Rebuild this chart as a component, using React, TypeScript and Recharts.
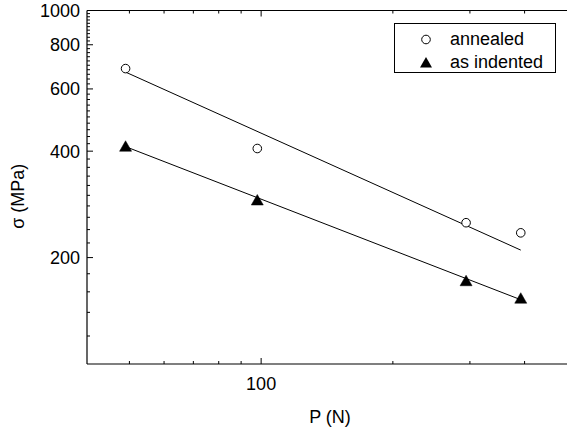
import React from "react";
import { ScatterChart, Scatter, XAxis, YAxis, Label } from "recharts";

// ---- data ----
const loadP = [49, 98, 294, 392]; // P (N)
const annealedSigma = [685, 407, 251, 235]; // σ (MPa)
const indentedSigma = [413, 291, 172, 153.5]; // σ (MPa)

const fitP = [49, 392];
const annealedFitSigma = [669.5, 210];
const indentedFitSigma = [412, 152];

// ---- ticks ----
const xTicks = [50, 60, 70, 80, 90, 100, 200, 300, 400];
const xLabels = [100];
const yTicks = [
  120, 140, 160, 180, 200, 220, 240, 260, 280, 300, 320, 340, 360, 380, 400,
  420, 440, 460, 480, 500, 520, 540, 560, 580, 600, 620, 640, 660, 680, 700,
  720, 740, 760, 780, 800, 820, 840, 860, 880, 900, 920, 940, 960, 980, 1000,
];
const yLabels = [200, 400, 600, 800, 1000];

const seriesNames = ["annealed", "as indented"];

const FONT = "'Liberation Sans', Arial, Helvetica, sans-serif";
const FS = 18;

const toPoints = (xs: number[], ys: number[]) => xs.map((p, i) => ({ p, s: ys[i] }));

const annealedData = toPoints(loadP, annealedSigma);
const indentedData = toPoints(loadP, indentedSigma);
const annealedFit = toPoints(fitP, annealedFitSigma);
const indentedFit = toPoints(fitP, indentedFitSigma);

const XTick = (props: any) => {
  const { x, y, payload } = props;
  const major = xLabels.includes(payload.value);
  return (
    <g>
      <line x1={x} x2={x} y1={y} y2={y - (major ? 6 : 3)} stroke="#000" strokeWidth={1} />
      {major && (
        <text x={x} y={y + 26} textAnchor="middle" fontFamily={FONT} fontSize={FS} fill="#000">
          {payload.value}
        </text>
      )}
    </g>
  );
};

const TopTick = (props: any) => {
  const { x, y, payload } = props;
  const major = xLabels.includes(payload.value);
  return <line x1={x} x2={x} y1={y} y2={y + (major ? 6 : 3)} stroke="#000" strokeWidth={1} />;
};

const YTick = (props: any) => {
  const { x, y, payload } = props;
  const major = yLabels.includes(payload.value);
  return (
    <g>
      <line x1={x} x2={x + (major ? 6 : 3)} y1={y} y2={y} stroke="#000" strokeWidth={1} />
      {major && (
        <text x={x - 7} y={y} dy="0.36em" textAnchor="end" fontFamily={FONT} fontSize={FS} fill="#000">
          {payload.value}
        </text>
      )}
    </g>
  );
};

const Circle = (props: any) => {
  const { cx, cy } = props;
  if (cx == null || cy == null) return <g />;
  return <circle cx={cx} cy={cy} r={4.3} fill="#fff" stroke="#000" strokeWidth={1} />;
};

const Triangle = (props: any) => {
  const { cx, cy } = props;
  if (cx == null || cy == null) return <g />;
  const pts = `${cx},${cy - 5.5} ${cx - 6},${cy + 5} ${cx + 6},${cy + 5}`;
  return <polygon points={pts} fill="#000" stroke="#000" strokeWidth={0.5} />;
};

const NoShape = () => <g />;

const YLabel = (props: any) => {
  const vb = props.viewBox || { x: 0, y: 0, width: 87, height: 354 };
  const cx = vb.x + 24;
  const cy = vb.y + vb.height / 2 + 9;
  return (
    <text
      x={cx}
      y={cy}
      transform={`rotate(-90, ${cx}, ${cy})`}
      textAnchor="middle"
      fontFamily={FONT}
      fontSize={FS}
      fill="#000"
    >
      σ (MPa)
    </text>
  );
};

const LegendMarker = ({ index }: { index: number }) =>
  index === 0 ? (
    <circle cx={31} cy={11.5} r={4.3} fill="#fff" stroke="#000" strokeWidth={1} />
  ) : (
    <polygon points="31,6 25,16.5 37,16.5" fill="#000" />
  );

export default function App() {
  return (
    <div style={{ position: "absolute", left: 0, top: 0, width: 568, height: 432, background: "#fff" }}>
      <ScatterChart width={568} height={432} margin={{ top: 0.5, right: 1, bottom: 0, left: 0 }}>
        <XAxis
          xAxisId="b"
          dataKey="p"
          type="number"
          scale="log"
          domain={[40, 500]}
          allowDataOverflow
          ticks={xTicks}
          interval={0}
          tickSize={0}
          tickMargin={0}
          tickLine={false}
          tick={XTick}
          height={68}
          axisLine={{ stroke: "#000", strokeWidth: 1.2 }}
        >
          <Label
            value="P (N)"
            position="insideBottom"
            offset={9}
            dx={3}
            style={{ fontFamily: FONT, fontSize: FS, fill: "#000" }}
          />
        </XAxis>
        <XAxis
          xAxisId="t"
          orientation="top"
          dataKey="p"
          type="number"
          scale="log"
          domain={[40, 500]}
          allowDataOverflow
          ticks={xTicks}
          interval={0}
          tickSize={0}
          tickMargin={0}
          tickLine={false}
          tick={TopTick}
          height={10}
          axisLine={{ stroke: "#000", strokeWidth: 1.2 }}
        />
        <YAxis
          yAxisId="l"
          dataKey="s"
          type="number"
          scale="log"
          domain={[100, 1000]}
          allowDataOverflow
          ticks={yTicks}
          interval={0}
          tickSize={0}
          tickMargin={0}
          tickLine={false}
          tick={YTick}
          width={87}
          axisLine={{ stroke: "#000", strokeWidth: 1.2 }}
          label={<YLabel />}
        />
        <Scatter xAxisId="t" yAxisId="l" data={annealedFit} shape={NoShape} isAnimationActive={false} />
        <Scatter
          xAxisId="b"
          yAxisId="l"
          data={annealedFit}
          line={{ stroke: "#000", strokeWidth: 1 }}
          shape={NoShape}
          isAnimationActive={false}
        />
        <Scatter
          xAxisId="b"
          yAxisId="l"
          data={indentedFit}
          line={{ stroke: "#000", strokeWidth: 1 }}
          shape={NoShape}
          isAnimationActive={false}
        />
        <Scatter xAxisId="b" yAxisId="l" name={seriesNames[0]} data={annealedData} shape={Circle} isAnimationActive={false} />
        <Scatter xAxisId="b" yAxisId="l" name={seriesNames[1]} data={indentedData} shape={Triangle} isAnimationActive={false} />
      </ScatterChart>
      <div
        style={{
          position: "absolute",
          left: 394,
          top: 23,
          width: 160,
          height: 48,
          border: "1px solid #000",
          background: "#fff",
          fontFamily: FONT,
          fontSize: FS,
          color: "#000",
        }}
      >
        {seriesNames.map((name, i) => (
          <div
            key={name}
            style={{ position: "absolute", left: 0, top: 3.5 + i * 23, height: 23, display: "flex", alignItems: "center", whiteSpace: "nowrap" }}
          >
            <svg width={55} height={23} style={{ display: "block" }}>
              <LegendMarker index={i} />
            </svg>
            <span style={{ lineHeight: "23px" }}>{name}</span>
          </div>
        ))}
      </div>
    </div>
  );
}
